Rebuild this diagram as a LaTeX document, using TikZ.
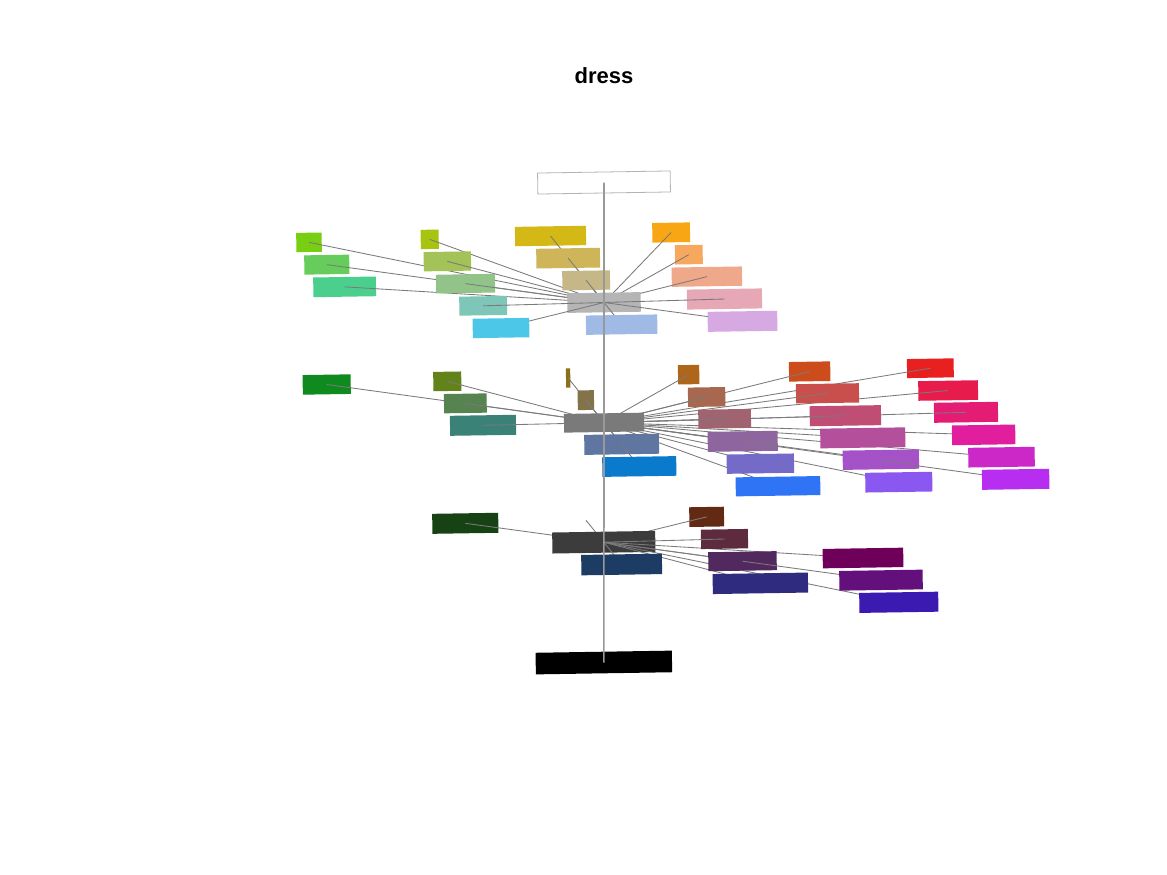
\documentclass[tikz,border=0pt]{standalone}
\usepackage{fontspec}
\setmainfont{Liberation Sans}
\pgfdeclarelayer{BG}\pgfdeclarelayer{L1}\pgfdeclarelayer{L2}\pgfdeclarelayer{L3}\pgfdeclarelayer{L5}\pgfdeclarelayer{L6}
\pgfsetlayers{BG,L1,L2,L3,main,L5,L6}
\definecolor{lncol}{HTML}{7A7A7A}
\definecolor{axcol}{HTML}{999999}
\definecolor{boxedge}{HTML}{B4B4B4}
\tikzset{
  patch/.style={shape=rectangle, inner sep=0pt, outer sep=0pt, draw=none, rotate=0.9},
  conn/.style={draw=lncol, line width=0.85pt},
  axisline/.style={draw=axcol, line width=1.7pt},
  titlefont/.style={font=\fontsize{22}{26}\selectfont\bfseries}
}
% name, x1, y1, x2, y2, colour, extra style
\newcommand\Rct[7]{%
  \pgfmathsetmacro\rcx{(#2+#4)/2}%
  \pgfmathsetmacro\rcy{(#3+#5)/2}%
  \pgfmathsetmacro\rcw{#4-#2}%
  \pgfmathsetmacro\rch{#5-#3}%
  \definecolor{c#1}{HTML}{#6}%
  \node[patch, fill=c#1, minimum width=\rcw pt, minimum height=\rch pt, #7] (#1) at (\rcx,\rcy) {};}
\newcommand\Ln[2]{\draw[conn] (#1.center) -- (#2.center);}
\newcommand\Inn[3]{\begin{scope}\clip (#1.south west) -- (#1.south east) -- (#1.north east) -- (#1.north west) -- cycle;\draw[conn] (#2.center) -- (#3.center);\end{scope}}

\begin{document}
\begin{tikzpicture}[x=1pt,y=-1pt]
\useasboundingbox (0,0) rectangle (1167,875);
\begin{pgfonlayer}{BG}
\fill[white] (0,0) rectangle (1167,875);
\end{pgfonlayer}

\node[titlefont, anchor=base] (title) at (604,83.3) {dress};

% hubs
\begin{pgfonlayer}{L2}
\Rct{hT}{567.3}{292.7}{640.7}{312.3}{B5B5B5}{}
\Rct{hM}{564}{413.3}{644}{432}{7A7A7A}{}
\Rct{hB}{552.3}{531.7}{655.3}{552.7}{3C3C3C}{}
\end{pgfonlayer}

% top and bottom boxes
\Rct{tbox}{537.7}{172}{670.3}{193}{FFFFFF}{draw=boxedge, line width=0.8pt}
\Rct{blk}{535.7}{651.7}{672}{673.3}{000000}{}

% top cluster
\Rct{tA}{296.3}{232.7}{321.7}{252}{78CE12}{}
\Rct{tB}{304.3}{255}{349.3}{274.3}{66CD5C}{}
\Rct{tC}{313.3}{277}{376}{296.7}{4BCF8C}{}
\Rct{tD}{420.7}{229.7}{438.7}{249}{A8C410}{}
\Rct{tE}{423.7}{251.7}{471}{271}{A3C257}{}
\Rct{tF}{436}{274.3}{495}{293}{92C48A}{}
\Rct{tG}{459.3}{296.3}{507}{315.3}{7DC6B8}{}
\Rct{tH}{472.7}{318.3}{529.3}{337.7}{4DC7E8}{}
\Rct{tI}{515}{226.3}{586}{245.7}{D4B815}{}
\Rct{tJ}{536.3}{248.3}{600}{268}{CFB55A}{}
\Rct{tK}{562.3}{270.7}{610}{290}{C5B788}{}
\Rct{tL}{586}{315}{657.3}{334.3}{9FBBE5}{}
\Rct{tM}{652.3}{222.7}{690}{242.3}{F9A615}{}
\Rct{tN}{675}{245}{702.7}{264.3}{F5A85E}{}
\Rct{tO}{671.7}{267}{742}{286.3}{F0A88A}{}
\Rct{tP}{687}{289}{762}{309}{E6A8B5}{}
\Rct{tQ}{707.7}{311.3}{777.3}{331.3}{D6A9E3}{}

% middle cluster
\Rct{mA}{302.7}{374.7}{350.7}{394.3}{0F8A1E}{}
\Rct{mB}{433.3}{371.7}{461.3}{391}{62821A}{}
\Rct{mC}{444}{393.7}{486.7}{413}{568350}{}
\Rct{mD}{450}{415.3}{516}{435.3}{3A8278}{}
\Rct{mE}{566}{368.3}{570.3}{387.7}{8B7017}{}
\Rct{mF}{577.7}{390.3}{594}{410}{837349}{}
\Rct{mG}{584.3}{434.3}{659}{454.3}{5E76A0}{}
\Rct{mH}{602.3}{456.7}{676.3}{476.3}{0A7ACC}{}
\Rct{mI}{678}{365}{699.3}{384.3}{AD661A}{}
\Rct{mJ}{688}{387.3}{725.3}{406.7}{A8674F}{}
\Rct{mK}{698.3}{409.3}{751}{428.3}{A06470}{}
\Rct{mL}{707.7}{431.3}{777.7}{451.3}{8F65A0}{}
\Rct{mM}{726.7}{454}{794}{473.3}{746AC8}{}
\Rct{mN}{735.7}{476.7}{820.3}{495.7}{2F74F5}{}
\Rct{mO}{789}{361.7}{830.3}{381.3}{CC4C1C}{}
\Rct{mP}{796}{383.7}{859}{403}{C94F4C}{}
\Rct{mQ}{809.7}{405.7}{881}{425.7}{C04E74}{}
\Rct{mR}{820.3}{428}{905.3}{447.7}{B44F9C}{}
\Rct{mX}{842.7}{450}{919}{469.3}{A552C8}{}
\Rct{mS}{865.3}{472.3}{932.3}{492}{8A58F0}{}
\Rct{mT}{907}{358.7}{953.7}{377.7}{E82020}{}
\Rct{mU}{918.3}{380.7}{978}{400.3}{E81C4C}{}
\Rct{mV}{934}{402.3}{998}{422.3}{E51C74}{}
\Rct{mW}{952}{425}{1015.3}{444.7}{E01E9E}{}
\Rct{mY}{968.3}{447.3}{1034.7}{467}{CC28C8}{}
\Rct{mZ}{982}{469.3}{1049.3}{489.3}{B82EF0}{}

% bottom cluster
\Rct{bA}{432.3}{513.3}{498.3}{533.3}{174314}{}
\Rct{bB}{581.3}{554.3}{662}{574.7}{1C3C63}{}
\Rct{bC}{689.3}{507}{724}{526.7}{622A12}{}
\Rct{bD}{701}{529.3}{748}{548.7}{5E2A3D}{}
\Rct{bE}{708.3}{551.7}{776.7}{570.7}{52295E}{}
\Rct{bF}{712.7}{573.3}{808}{593.3}{2F2C80}{}
\Rct{bG}{822.7}{548.3}{903.3}{567.7}{6F005A}{}
\Rct{bH}{839.3}{570.3}{922.7}{590}{64107C}{}
\Rct{bI}{859.3}{592.3}{938.3}{612.3}{3A1AB0}{}
\coordinate (bX) at (586,520.3);

% connectors hidden by the hubs
\begin{pgfonlayer}{L1}
\foreach \s in {tA,tB,tC,tD,tE,tF,tI,tJ,tK,tM,tN,tO} {\Ln{hT}{\s}}
\foreach \s in {mA,mB,mC,mD,mE,mF,mI,mJ,mO,mP,mQ,mT,mU,mV} {\Ln{hM}{\s}}
\foreach \s in {bA,bC} {\Ln{hB}{\s}}
\draw[conn] (hB.center) -- (bX);
\end{pgfonlayer}

% connectors drawn over the hubs
\begin{pgfonlayer}{L3}
\foreach \s in {tG,tH,tL,tP,tQ} {\Ln{hT}{\s}}
\foreach \s in {mG,mH,mK,mL,mM,mN,mR,mX,mS,mW,mY,mZ} {\Ln{hM}{\s}}
\foreach \s in {bB,bD,bE,bF,bG,bH,bI} {\Ln{hB}{\s}}
\end{pgfonlayer}

% connector parts visible over the patches
\begin{pgfonlayer}{L5}
\foreach \s in {tA,tB,tC,tD,tE,tF,tG,tI,tJ,tK,tM,tN,tO,tP} {\Inn{\s}{hT}{\s}}
\foreach \s in {mA,mB,mC,mD,mE,mF,mI,mJ,mK,mO,mP,mQ,mT,mU,mV} {\Inn{\s}{hM}{\s}}
\foreach \s in {bA,bC,bD} {\Inn{\s}{hB}{\s}}
\Inn{mG}{mG}{mH}
\Inn{mL}{mL}{mX}
\Inn{mX}{mX}{mZ}
\Inn{bE}{bE}{bH}
\end{pgfonlayer}

% vertical axis
\begin{pgfonlayer}{L6}
\draw[axisline] (tbox.center) -- (blk.center);
\end{pgfonlayer}
\end{tikzpicture}
\end{document}
